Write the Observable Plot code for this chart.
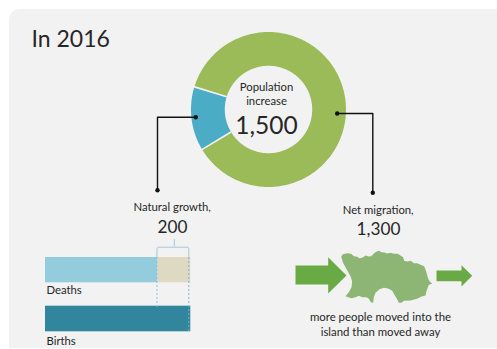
<!DOCTYPE html>
<html>
<head>
<meta charset="utf-8">
<script src="https://cdn.jsdelivr.net/npm/d3@7"></script>
<script src="https://cdn.jsdelivr.net/npm/@observablehq/plot@0.6"></script>
<style>
  html, body { margin: 0; padding: 0; background: #fff; }
  #stage { position: relative; width: 497px; height: 349px; overflow: hidden; font-family: Lato, sans-serif; }
  #panel { position: absolute; left: 9px; top: 9px; right: 0; bottom: 1px; background: #f2f2f2; border-top-left-radius: 11px; }
  #stage svg { position: absolute; display: block; background: transparent; overflow: visible; }
</style>
</head>
<body>
<div id="stage"><div id="panel"></div></div>
<script>
// Population change in 2016
const sliceNames = ["Natural growth", "Net migration"];
const sliceValues = [200, 1300];
const sliceColours = ["#4bacc6", "#9bbb59"];

const barNames = ["Deaths", "Births"];
const barValues = [680, 880];

const naturalGrowth = sliceValues[0];
const netMigration = sliceValues[1];
const populationIncrease = d3.sum(sliceValues);
const fmt = d3.format(",");

// Outline of the island, in its own map units
const islandX = [17,22,35,47,55,65,72,82,90,100,107,115,122,131,138,147,155,165,175,187,196,203,206,215,226,235,245,255,266,270,274,278,283,290,280,277,272,270,258,245,225,205,198,190,184,178,170,158,145,132,120,115,113,106,100,93,80,70,60,48,38,30,40,48,50,45,37,30,22];
const islandY = [33,26,23,25,32,34,38,36,30,33,32,24,19,16,20,21,24,22,25,25,31,35,46,48,46,53,53,58,62,72,85,100,108,115,118,125,140,150,153,160,165,166,172,172,160,150,136,129,127,131,142,155,172,170,160,155,155,151,155,158,155,152,140,125,108,92,78,65,50];

const stage = document.getElementById("stage");
function place(svg, left, top) {
  svg.style.left = left + "px";
  svg.style.top = top + "px";
  stage.appendChild(svg);
}

// Ring: angles come from the slice values, clockwise from the Natural growth slice
const toDegrees = 180 / Math.PI;
const ringStart = 239 / toDegrees;
const holeRatio = 0.564;
const pie = d3.pie().sort(null).startAngle(ringStart).endAngle(ringStart + 2 * Math.PI)(sliceValues);
const polar = (r, a) => ({x: r * Math.sin(a), y: r * Math.cos(a)});
const slicePoints = pie.flatMap((arc, i) => {
  const steps = Math.ceil((arc.endAngle - arc.startAngle) * toDegrees);
  const angles = d3.range(steps + 1).map(k => arc.startAngle + (arc.endAngle - arc.startAngle) * k / steps);
  return [
    ...angles.map(a => polar(1, a)),
    ...angles.slice().reverse().map(a => polar(holeRatio, a))
  ].map(p => ({...p, name: sliceNames[i]}));
});
const sliceEdges = pie.map(arc => ({
  inner: polar(holeRatio, arc.startAngle),
  outer: polar(1.01, arc.startAngle)
}));

place(Plot.plot({
  width: 160, height: 160,
  marginLeft: 2.5, marginRight: 2.5, marginTop: 2.5, marginBottom: 2.5,
  x: {domain: [-1, 1], axis: null},
  y: {domain: [-1, 1], axis: null},
  color: {domain: sliceNames, range: sliceColours},
  marks: [
    Plot.line(slicePoints, {x: "x", y: "y", fill: "name", stroke: "none", z: "name"}),
    Plot.link(sliceEdges, {
      x1: d => d.inner.x, y1: d => d.inner.y,
      x2: d => d.outer.x, y2: d => d.outer.y,
      stroke: "#f2f2f2", strokeWidth: 1.6
    })
  ]
}), 187.7, 29);

// Deaths and births bars; the y scale runs in page rows so the bracket can sit above them
const deaths = barValues[0];
const births = barValues[1];
const bracketEnd = births - 14;
const barRows = [
  {x1: 0, x2: deaths, y1: 257, y2: 282.3, part: "deaths"},
  {x1: deaths, x2: births, y1: 257, y2: 282.3, part: "gap"},
  {x1: 0, x2: births, y1: 305.7, y2: 331.3, part: "births"}
];
const bracketColour = "#a3c6dc";
const bracket = [
  {x: deaths - 5, y: 257}, {x: deaths - 5, y: 249}, {x: deaths - 3, y: 247.3}, {x: deaths + 3, y: 246.7},
  {x: bracketEnd - 3, y: 246.7}, {x: bracketEnd, y: 247.3}, {x: bracketEnd + 2, y: 249}, {x: bracketEnd + 2, y: 257}
];

place(Plot.plot({
  width: 160, height: 114,
  marginLeft: 0, marginRight: 14.7, marginTop: 0, marginBottom: 0,
  x: {domain: [0, births], axis: null},
  y: {domain: [235, 349], range: [0, 114], axis: null},
  color: {domain: ["deaths", "gap", "births"], range: ["#93cddd", "#ddd9c3", "#31859c"]},
  marks: [
    Plot.rect(barRows, {x1: "x1", x2: "x2", y1: "y1", y2: "y2", fill: "part"}),
    Plot.ruleX([deaths - 5], {y1: 257, y2: 307, stroke: "#93bcd8", strokeWidth: 1, strokeDasharray: "2,2"}),
    Plot.ruleX([bracketEnd + 2], {y1: 257, y2: 331.3, stroke: "#7fb0cc", strokeWidth: 1, strokeDasharray: "2,2"}),
    Plot.line(bracket, {x: "x", y: "y", stroke: bracketColour, strokeWidth: 1}),
    Plot.ruleX([(deaths + births) / 2], {y1: 239, y2: 246.7, stroke: bracketColour, strokeWidth: 1}),
    Plot.text(barNames, {
      x: 0, y: [290, 340.5], text: d => d, dx: 1,
      textAnchor: "start", lineAnchor: "middle",
      fontSize: 11.3, fontFamily: "Lato, sans-serif", fill: "#262626"
    })
  ]
}), 44.7, 235);

// Annotations: page-wide layer for text, leaders, arrows and the island
const leaderLeft = [[195.3, 116.7], [157, 116.7], [157, 189.7]];
const leaderRight = [[336.7, 113], [372.3, 113], [372.3, 192.3]];
const arrowIn = [[295, 265], [327.7, 265], [327.7, 256.7], [346, 275], [327.7, 293], [327.7, 284], [295, 284]];
const arrowOut = [[436, 270], [461, 270], [461, 264.7], [471.7, 275.3], [461, 286], [461, 280.7], [436, 280.7]];
const island = islandX.map((x, i) => [335 + x / 3, 245 + islandY[i] / 3]);

const textColour = "#262626";
const label = (text, x, y, fontSize, textAnchor = "middle") => Plot.text([text], {
  x: () => x, y: () => y, text: d => d, fontSize, textAnchor,
  lineAnchor: "middle", fontFamily: "Lato, sans-serif", fill: textColour
});
const px = {x: d => d[0], y: d => d[1]};

place(Plot.plot({
  width: 497, height: 349,
  marginLeft: 0, marginRight: 0, marginTop: 0, marginBottom: 0,
  x: {domain: [0, 497], range: [0, 497], axis: null},
  y: {domain: [0, 349], range: [0, 349], axis: null},
  marks: [
    Plot.line(arrowIn, {...px, fill: "#6aaa45", stroke: "none"}),
    Plot.line(arrowOut, {...px, fill: "#6aaa45", stroke: "none"}),
    Plot.line(island, {...px, fill: "#8db573", stroke: "none"}),
    Plot.line(leaderLeft, {...px, stroke: "#111", strokeWidth: 1.4}),
    Plot.line(leaderRight, {...px, stroke: "#111", strokeWidth: 1.4}),
    Plot.dot([leaderLeft[0], leaderLeft[2], leaderRight[0], leaderRight[2]], {...px, r: 2.2, fill: "#111", stroke: "none"}),
    label("In 2016", 31, 39, 23, "start"),
    label("Population", 266, 87, 11.3),
    label("increase", 266, 101, 11.3),
    label(fmt(populationIncrease), 266, 126, 24.5),
    label(sliceNames[0] + ",", 171.7, 207, 11.3),
    label(fmt(naturalGrowth), 172, 226.5, 17.2),
    label(sliceNames[1] + ",", 377.7, 210, 11.3),
    label(fmt(netMigration), 378, 229, 17.2),
    label("more people moved into the", 380, 317, 11.4),
    label("island than moved away", 380, 332, 11.4)
  ]
}), 0, 0);
</script>
</body>
</html>
